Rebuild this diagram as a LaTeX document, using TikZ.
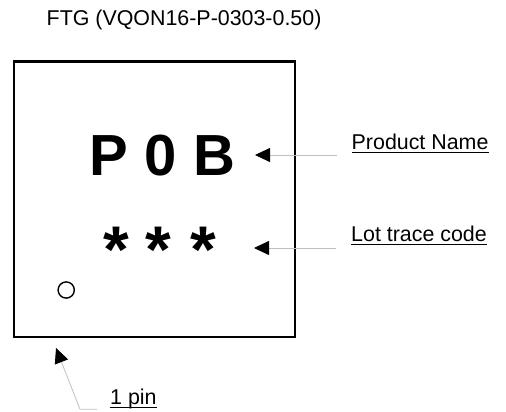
\documentclass[tikz,border=0pt]{standalone}
\usepackage{fontspec}
\setmainfont{Liberation Sans}
\usetikzlibrary{arrows.meta}
\begin{document}
\begin{tikzpicture}[x=1pt,y=-1pt,
  lbl/.style={font=\fontsize{21.4}{25}\selectfont, inner sep=0pt, anchor=base west},
  leader/.style={draw=black!25, line width=0.8pt, -{Triangle[length=15pt,width=14pt,color=black]}},
  uline/.style={line width=1.3pt},
  star/.style={font=\fontsize{66}{66}\selectfont\bfseries, inner sep=0pt, anchor=base}]
\useasboundingbox (0,0) rectangle (506,412);
\node[lbl] (title) at (46.5,26) {FTG (VQON16-P-0303-0.50)};
\node[draw, line width=2.3pt, minimum width=281pt, minimum height=275.2pt, inner sep=0pt, anchor=north west] (chip) at (13,60.3) {};
\node[font=\fontsize{58}{58}\selectfont\bfseries, inner sep=0pt, anchor=base] (pob) at (162.5,175) {P 0 B};
\node[star] (s1) at (116,272) {*};
\node[star] (s2) at (158.5,272) {*};
\node[star] (s3) at (203,272) {*};
\node[draw, circle, minimum size=16.2pt, inner sep=0pt, line width=1.4pt] (pin1) at (66.2,290) {};
\node[lbl] (pn) at (351.5,149) {Product Name};
\draw[uline] ([yshift=-3.5pt]pn.base west) -- ([yshift=-3.5pt]pn.base east);
\node[lbl] (lt) at (351,241) {Lot trace code};
\draw[uline] ([yshift=-3.8pt]lt.base west) -- ([yshift=-3.8pt]lt.base east);
\node[lbl] (onepin) at (110,404) {1 pin};
\draw[uline] ([yshift=-3.8pt]onepin.base west) -- ([yshift=-3.8pt]onepin.base east);
\coordinate (pnA) at (337,155);
\coordinate (pnT) at (255,155);
\coordinate (ltA) at (336,248);
\coordinate (ltT) at (254,248);
\coordinate (p1A) at (97,409.3);
\coordinate (p1B) at (80,409.3);
\coordinate (p1T) at (56,348);
\draw[leader] (pnA) -- (pnT);
\draw[leader] (ltA) -- (ltT);
\draw[leader] (p1A) -- (p1B) -- (p1T);
\end{tikzpicture}
\end{document}
